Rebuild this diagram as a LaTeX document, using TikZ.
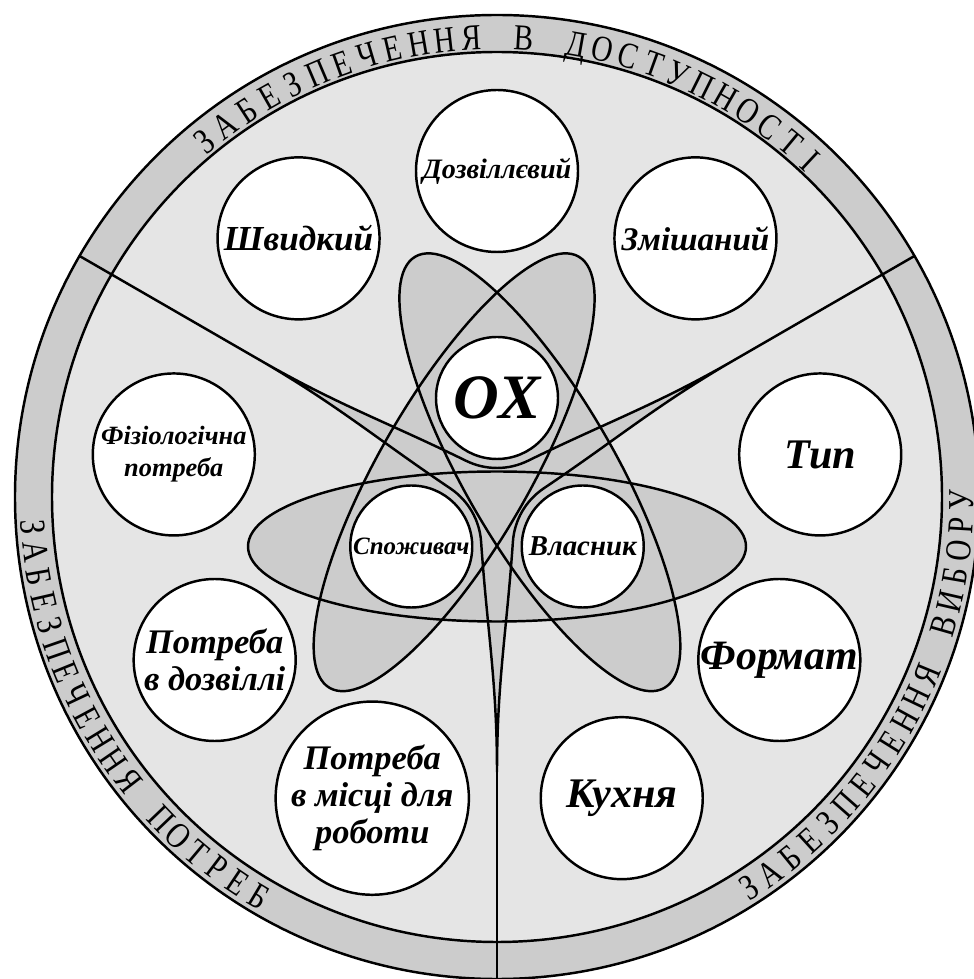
\documentclass[tikz,border=0pt]{standalone}
\usepackage{fontspec}
\setmainfont{Liberation Serif}

\definecolor{ringgray}{gray}{0.8}
\definecolor{diskgray}{gray}{0.9}
\definecolor{blobgray}{gray}{0.8}

\tikzset{
  bubble/.style={circle, draw, fill=white, inner sep=0pt, align=center},
  big/.style={bubble, minimum size=1.62cm},
  small/.style={bubble, minimum size=1.22cm},
  fs/.style 2 args={font=\bfseries\itshape\fontsize{#1}{#2}\selectfont},
  ringletter/.style={inner sep=0pt, anchor=base, font=\fontsize{10.4}{10}\selectfont}
}
\newcommand{\narrow}[1]{\scalebox{0.8}[1]{#1}}

\begin{document}
\begin{tikzpicture}[line width=0.7pt, line join=round]
\useasboundingbox (-4.97,-4.82) rectangle (4.77,4.97);

% outer ring and disk
\fill[ringgray] (0,0) circle (4.82);
\fill[diskgray] (0,0) circle (4.45);
\draw (0,0) circle (4.82) (0,0) circle (4.45);

% ellipse centres, cusps, ring points
\coordinate (e1) at (270:0.495);
\coordinate (e2) at (30:0.495);
\coordinate (e3) at (150:0.495);
\coordinate (m1) at (30:2.75);
\coordinate (m2) at (150:2.75);
\coordinate (m3) at (270:2.75);
\coordinate (q1) at (30:4.82);
\coordinate (q2) at (150:4.82);
\coordinate (q3) at (270:4.82);

\fill[blobgray] (e1) ellipse (2.49 and 0.75);
\fill[blobgray, rotate around={-60:(e2)}] (e2) ellipse (2.49 and 0.75);
\fill[blobgray, rotate around={60:(e3)}] (e3) ellipse (2.49 and 0.75);

% three-pointed star
\filldraw[blobgray, draw=black]
  (m2) to[out=-30, in=153.95] (130.4:0.4742)
       arc[start angle=243.95, end angle=296.05, radius=0.7]
       to[out=26.05, in=210] (m1)
       to[out=-150, in=33.95] (10.4:0.4742)
       arc[start angle=123.95, end angle=176.05, radius=0.7]
       to[out=-93.95, in=90] (m3)
       to[out=90, in=-86.05] (250.4:0.4742)
       arc[start angle=3.95, end angle=56.05, radius=0.7]
       to[out=146.05, in=-30] (m2) -- cycle;

\draw (e1) ellipse (2.49 and 0.75);
\draw[rotate around={-60:(e2)}] (e2) ellipse (2.49 and 0.75);
\draw[rotate around={60:(e3)}] (e3) ellipse (2.49 and 0.75);

\draw (m1) -- (q1);
\draw (m2) -- (q2);
\draw (m3) -- (q3);

% centre
\node[small, fs={18}{18}] (ox) at (90:0.99) {OX};
\node[small, fs={7.1}{8}] (spozhyvach) at (210:0.99) {Споживач};
\node[small, fs={8.2}{9}] (vlasnyk) at (330:0.99) {Власник};

% upper sector
\node[big, fs={10}{10}] (shvydkyi) at (127.5:3.26) {Швидкий};
\node[big, fs={8}{8}] (dozvillevyi) at (90:3.26) {Дозвіллєвий};
\node[big, fs={9.4}{10}] (zmishanyi) at (52.5:3.26) {Змішаний};

% right sector
\node[big, fs={12}{12}] (typ) at (7.5:3.26) {Тип};
\node[big, fs={11.9}{12}] (format) at (-30:3.26) {Формат};
\node[big, fs={12}{12}] (kukhnia) at (-67.5:3.26) {Кухня};

% left sector
\node[big, fs={9.8}{10.5}] (robota) at (247.5:3.26) {Потреба\\в місці для\\роботи};
\node[big, fs={9.8}{10.5}] (dozvillia) at (210:3.26) {Потреба\\в дозвіллі};
\node[big, fs={7.5}{9}] (fiziol) at (172.5:3.26) {Фізіологічна\\потреба};

% ring captions, one letter at a time
\foreach \ch [count=\i from 0] in {З,А,Б,Е,З,П,Е,Ч,Е,Н,Н,Я,{},В,{},Д,О,С,Т,У,П,Н,О,С,Т,І}
  \node[ringletter, rotate={39.5-3.3*\i}] (top-\i) at ({129.5-3.3*\i}:4.48) {\narrow{\ch}};
\foreach \ch [count=\i from 0] in {З,А,Б,Е,З,П,Е,Ч,Е,Н,Н,Я,{},П,О,Т,Р,Е,Б}
  \node[ringletter, rotate={273.7+3.08*\i}] (left-\i) at ({183.7+3.08*\i}:4.77) {\narrow{\ch}};
\foreach \ch [count=\i from 0] in {З,А,Б,Е,З,П,Е,Ч,Е,Н,Н,Я,{},В,И,Б,О,Р,У}
  \node[ringletter, rotate={392.8+3.16*\i}] (right-\i) at ({302.8+3.16*\i}:4.77) {\narrow{\ch}};
\end{tikzpicture}
\end{document}
